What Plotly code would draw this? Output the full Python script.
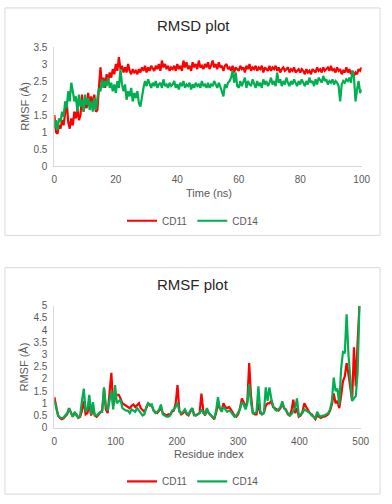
import plotly.graph_objects as go

# ---------------- RMSD data (time in ns, step 0.5) ----------------
TIME_NS = [i * 0.5 for i in range(201)]

RMSD_CD11 = [
    1.5, 1.0, 0.95, 1.2, 1.1, 1.35, 1.2, 1.55, 1.9, 1.3, 1.1, 1.4, 1.2, 1.6, 1.4, 1.7, 1.35, 1.5, 2.1, 1.6,
    1.9, 1.7, 2.15, 1.8, 2.05, 1.75, 2.1, 1.6, 1.65, 2.3, 2.9, 2.35, 2.6, 2.3, 2.7, 2.5, 2.75, 2.6, 2.85, 2.7,
    3.0, 2.8, 3.2, 2.85, 2.95, 2.75, 2.9, 2.75, 3.0, 2.8, 2.7, 2.85, 2.75, 2.8, 2.7, 2.85, 2.75, 2.9, 2.8, 2.95,
    2.75, 2.9, 2.8, 2.95, 2.85, 2.8, 2.95, 2.85, 3.0, 2.8, 3.1, 2.9, 3.0, 2.85, 2.95, 2.8, 2.9, 2.85, 2.95, 2.8,
    3.0, 2.85, 2.95, 2.8, 3.1, 2.9, 3.05, 2.85, 2.95, 2.8, 3.05, 2.9, 3.0, 2.85, 3.1, 2.9, 2.95, 2.85, 3.0, 2.9,
    3.05, 2.85, 2.95, 3.1, 2.9, 3.0, 2.85, 3.05, 2.9, 2.95, 2.8, 2.95, 3.0, 2.85, 2.9, 2.8, 2.95, 2.75, 2.9, 2.85,
    2.8, 2.95, 2.85, 2.9, 2.75, 2.95, 2.85, 3.0, 2.8, 2.9, 2.85, 2.95, 2.8, 2.9, 2.85, 2.95, 2.75, 2.9, 2.85, 2.8,
    2.95, 2.8, 2.9, 2.85, 2.95, 2.8, 2.9, 2.75, 2.85, 2.9, 2.8, 2.85, 2.9, 2.75, 2.85, 2.8, 2.9, 2.75, 2.8, 2.85,
    2.75, 2.85, 2.8, 2.7, 2.85, 2.75, 2.8, 2.7, 2.85, 2.8, 2.75, 2.9, 2.8, 2.85, 2.75, 2.9, 2.8, 2.85, 2.9, 2.8,
    2.95, 2.8, 2.85, 2.75, 2.9, 2.8, 2.85, 2.7, 2.8, 2.75, 2.9, 2.75, 2.85, 2.7, 2.8, 2.65, 2.75, 2.7, 2.85, 2.8,
    2.9,
]

RMSD_CD14 = [
    1.1, 1.35, 1.05, 1.4, 1.3, 1.6, 1.45, 1.9, 1.7, 2.2, 1.9, 2.45, 2.2, 1.9, 2.05, 1.6, 2.1, 1.75, 1.95, 1.6,
    2.1, 1.8, 2.0, 1.65, 1.9, 1.6, 2.0, 1.65, 2.0, 2.3, 2.2, 2.55, 2.3, 2.5, 2.35, 2.6, 2.3, 2.45, 2.2, 2.4,
    2.15, 2.5, 2.3, 2.85, 2.4, 2.2, 2.4, 1.95, 2.2, 2.05, 2.3, 1.9, 2.15, 2.0, 2.2, 1.85, 1.75, 2.1, 2.3, 2.5,
    2.35, 2.55, 2.4, 2.3, 2.45, 2.35, 2.5, 2.3, 2.4, 2.45, 2.3, 2.55, 2.35, 2.4, 2.3, 2.45, 2.35, 2.4, 2.5, 2.3,
    2.4, 2.25, 2.45, 2.35, 2.5, 2.3, 2.4, 2.35, 2.45, 2.25, 2.4, 2.3, 2.45, 2.35, 2.4, 2.3, 2.5, 2.35, 2.4, 2.3,
    2.45, 2.3, 2.4, 2.35, 2.5, 2.4, 2.3, 2.45, 2.35, 2.2, 2.05, 2.4, 2.3, 2.45, 2.5, 2.6, 2.8, 2.45, 2.75, 2.35,
    2.3, 2.5, 2.35, 2.45, 2.6, 2.3, 2.5, 2.4, 2.35, 2.55, 2.4, 2.3, 2.5, 2.35, 2.45, 2.3, 2.55, 2.4, 2.5, 2.35,
    2.45, 2.6, 2.4, 2.5, 2.35, 2.75, 2.45, 2.55, 2.35, 2.5, 2.4, 2.6, 2.45, 2.35, 2.5, 2.4, 2.55, 2.45, 2.35, 2.5,
    2.4, 2.55, 2.45, 2.35, 2.5, 2.4, 2.6, 2.45, 2.5, 2.35, 2.55, 2.4, 2.6, 2.5, 2.45, 2.65, 2.5, 2.55, 2.4, 2.5,
    2.45, 2.55, 2.4, 2.5, 2.45, 2.35, 1.9, 2.4, 2.5, 2.45, 2.55, 2.5, 2.6, 2.45, 2.8, 2.6, 1.9, 2.25, 2.5, 2.15,
    2.25,
]

# ---------------- RMSF data (residue index, step 3) ----------------
RESIDUE = list(range(0, 499, 3))

RMSF_CD11 = [
    1.25, 0.8, 0.5, 0.4, 0.35, 0.38, 0.45, 0.55, 0.8, 0.6,
    0.45, 0.6, 0.55, 0.4, 0.45, 0.7, 1.1, 0.55, 0.6, 0.95,
    0.5, 0.8, 0.5, 0.45, 0.55, 0.65, 0.7, 1.6, 0.75, 0.6,
    1.3, 2.25, 0.9, 1.2, 1.35, 1.35, 1.2, 1.0, 0.95, 0.9,
    0.85, 0.8, 0.9, 0.95, 0.85, 0.95, 1.0, 0.8, 0.7, 0.65,
    0.8, 1.0, 0.95, 0.9, 0.7, 0.65, 0.6, 0.7, 0.8, 0.6,
    0.55, 0.5, 0.55, 0.55, 0.65, 0.7, 1.0, 1.75, 0.7, 0.55,
    0.6, 0.7, 0.55, 0.5, 0.65, 0.8, 0.55, 0.5, 0.55, 0.6,
    1.4, 0.7, 0.5, 0.75, 0.6, 0.5, 0.4, 0.35, 0.6, 0.95,
    0.8, 0.7, 1.0, 0.85, 0.8, 0.85, 0.75, 0.6, 0.5, 0.45,
    0.55, 0.8, 1.2, 1.05, 0.8, 1.1, 2.65, 1.3, 0.6, 0.55,
    0.55, 1.0, 0.6, 0.55, 0.6, 0.9, 1.0, 1.0, 1.1, 0.85,
    0.8, 0.75, 0.7, 0.8, 1.0, 0.8, 0.75, 0.55, 0.5, 0.7,
    1.15, 0.6, 0.8, 0.45, 0.5, 0.65, 1.0, 0.85, 0.7, 0.6,
    0.55, 0.45, 0.35, 0.5, 0.45, 0.4, 0.45, 0.45, 0.5, 0.55,
    0.7, 0.95, 1.4, 1.0, 1.1, 0.8, 1.3, 1.9, 2.1, 2.65,
    2.2, 1.6, 1.1, 3.3, 1.7, 3.55, 5.0,
]

RMSF_CD14 = [
    1.1, 0.75, 0.5, 0.42, 0.4, 0.42, 0.5, 0.6, 0.78, 0.62,
    0.45, 0.65, 0.5, 0.42, 0.5, 1.1, 1.6, 0.7, 0.75, 1.35,
    0.55, 1.05, 0.5, 0.5, 0.6, 0.65, 0.65, 1.65, 0.9, 0.7,
    1.1, 1.5, 0.75, 1.75, 1.0, 1.1, 1.15, 0.8, 0.75, 0.7,
    0.7, 0.6, 0.75, 0.7, 0.65, 0.8, 0.7, 0.6, 0.5, 0.55,
    0.85, 1.0, 0.9, 0.95, 0.7, 0.6, 0.65, 0.75, 0.95, 0.55,
    0.5, 0.45, 0.45, 0.5, 0.7, 0.75, 0.85, 1.05, 0.65, 0.6,
    0.65, 0.75, 0.6, 0.55, 0.7, 0.8, 0.5, 0.5, 0.55, 0.6,
    0.75, 0.6, 0.55, 0.8, 0.6, 0.5, 0.45, 0.4, 0.7, 1.25,
    0.8, 0.65, 0.85, 0.75, 0.65, 0.7, 0.65, 0.55, 0.45, 0.5,
    0.6, 0.75, 1.05, 0.95, 0.75, 1.0, 1.8, 1.0, 0.6, 0.6,
    0.65, 1.7, 0.7, 0.55, 0.6, 1.65, 1.1, 1.65, 1.2, 0.9,
    0.75, 0.7, 0.75, 0.85, 1.08, 0.8, 0.7, 0.6, 0.5, 0.55,
    0.7, 0.8, 1.2, 0.5, 0.55, 0.6, 0.75, 0.7, 0.65, 0.6,
    0.5, 0.45, 0.4, 0.65, 0.5, 0.45, 0.5, 0.5, 0.55, 0.6,
    0.75, 1.1, 2.05, 1.5, 1.6, 0.95, 2.4, 3.1, 3.05, 4.65,
    3.0, 1.9, 1.1, 1.2, 1.3, 2.3, 5.0,
]

SERIES_NAMES = ["CD11", "CD14"]
RED = "#FF0000"
GREEN = "#00B050"

W, H = 392, 504
FONT = "Liberation Sans, Arial, sans-serif"
TICK_COLOR = "#595959"
AXIS_LINE = "#D9D9D9"
LINE_W = 2.2


def px_x(p):
    return p / W


def px_y(p):
    return 1 - p / H


fig = go.Figure()

fig.add_trace(go.Scatter(x=TIME_NS, y=RMSD_CD11, mode="lines", name=SERIES_NAMES[0],
                         line=dict(color=RED, width=LINE_W), xaxis="x", yaxis="y", legend="legend"))
fig.add_trace(go.Scatter(x=TIME_NS, y=RMSD_CD14, mode="lines", name=SERIES_NAMES[1],
                         line=dict(color=GREEN, width=LINE_W), xaxis="x", yaxis="y", legend="legend"))
fig.add_trace(go.Scatter(x=RESIDUE, y=RMSF_CD11, mode="lines", name=SERIES_NAMES[0],
                         line=dict(color=RED, width=LINE_W), xaxis="x2", yaxis="y2", legend="legend2"))
fig.add_trace(go.Scatter(x=RESIDUE, y=RMSF_CD14, mode="lines", name=SERIES_NAMES[1],
                         line=dict(color=GREEN, width=LINE_W), xaxis="x2", yaxis="y2", legend="legend2"))

axis_common = dict(showgrid=False, zeroline=False, showline=True, linecolor=AXIS_LINE, linewidth=1,
                   ticks="", tickfont=dict(family=FONT, size=10, color=TICK_COLOR),
                   ticklabelstandoff=4, fixedrange=True)

fig.update_layout(
    width=W, height=H,
    margin=dict(l=0, r=0, t=0, b=0),
    paper_bgcolor="white", plot_bgcolor="white",
    font=dict(family=FONT),
    xaxis=dict(domain=[px_x(53), px_x(370)], range=[0, 100], dtick=20, anchor="y", **axis_common),
    yaxis=dict(domain=[px_y(164), px_y(42)], range=[0, 3.5], dtick=0.5, anchor="x", **axis_common),
    xaxis2=dict(domain=[px_x(53), px_x(369)], range=[0, 500], dtick=100, anchor="y2", **axis_common),
    yaxis2=dict(domain=[px_y(432), px_y(307)], range=[0, 5], dtick=0.5, anchor="x2", **axis_common),
    legend=dict(orientation="h", x=0.5, xanchor="center", y=px_y(220), yanchor="middle",
                font=dict(family=FONT, size=10, color=TICK_COLOR), bgcolor="rgba(0,0,0,0)",
                itemwidth=30, tracegroupgap=0),
    legend2=dict(orientation="h", x=0.5, xanchor="center", y=px_y(487), yanchor="middle",
                 font=dict(family=FONT, size=10, color=TICK_COLOR), bgcolor="rgba(0,0,0,0)",
                 itemwidth=30, tracegroupgap=0),
    showlegend=True,
)

# panel borders
for (x0, y0, x1, y1) in [(2, 2, 389, 235), (2, 268, 389, 500)]:
    fig.add_shape(type="rect", xref="paper", yref="paper",
                  x0=px_x(x0), x1=px_x(x1), y0=px_y(y1), y1=px_y(y0),
                  line=dict(color=AXIS_LINE, width=1), fillcolor="rgba(0,0,0,0)", layer="below")

annotations = [
    dict(text="RMSD plot", x=px_x(196), y=px_y(20), font=dict(size=15, color="#262626")),
    dict(text="Time (ns)", x=px_x(212), y=px_y(192), font=dict(size=11, color=TICK_COLOR)),
    dict(text="RMSF (Å)", x=px_x(22), y=px_y(103), textangle=-90, font=dict(size=11, color=TICK_COLOR)),
    dict(text="RMSF plot", x=px_x(196), y=px_y(285), font=dict(size=15, color="#262626")),
    dict(text="Residue index", x=px_x(212), y=px_y(459), font=dict(size=11, color=TICK_COLOR)),
    dict(text="RMSF (Å)", x=px_x(22), y=px_y(370), textangle=-90, font=dict(size=11, color=TICK_COLOR)),
]
for a in annotations:
    fig.add_annotation(xref="paper", yref="paper", showarrow=False, xanchor="center", yanchor="middle",
                       font_family=FONT, **{k: v for k, v in a.items()})

fig.write_html(
    "out.html",
    config={"displayModeBar": False},
    post_script="document.body.style.margin='0';document.body.style.overflow='hidden';",
)
